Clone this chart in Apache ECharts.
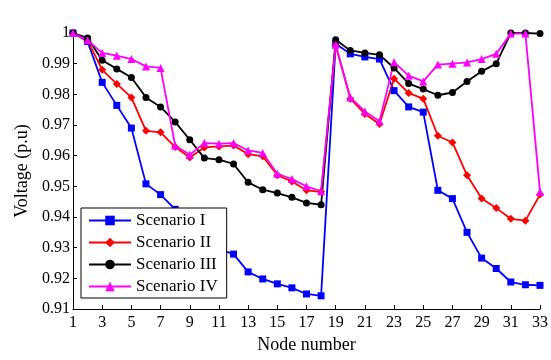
<!DOCTYPE html>
<html><head><meta charset="utf-8">
<script src="https://cdn.jsdelivr.net/npm/echarts@6/dist/echarts.min.js"></script>
<style>html,body{margin:0;padding:0;background:#fff}#c{width:551px;height:360px}</style>
</head><body><div id="c"></div>
<script>
const nodes = Array.from({length:33},(_,i)=>String(i+1));
const scenario1 = [1.0000,0.9972,0.9839,0.9764,0.9690,0.9508,0.9473,0.9425,0.9375,0.9305,0.9295,0.9279,0.9221,0.9198,0.9182,0.9169,0.9149,0.9143,
  0.9965,0.9932,0.9922,0.9915,0.9812,0.9759,0.9742,0.9487,0.9460,0.9350,0.9266,0.9232,0.9188,0.9179,0.9177];
const scenario2 = [1.0000,0.9976,0.9880,0.9834,0.9790,0.9681,0.9676,0.9628,0.9594,0.9627,0.9630,0.9633,0.9605,0.9598,0.9536,0.9516,0.9487,0.9482,
  0.9959,0.9786,0.9736,0.9703,0.9851,0.9804,0.9786,0.9665,0.9643,0.9536,0.9460,0.9429,0.9394,0.9388,0.9473];
const scenario3 = [1.0000,0.9984,0.9911,0.9883,0.9855,0.9790,0.9759,0.9710,0.9652,0.9592,0.9587,0.9573,0.9513,0.9489,0.9478,0.9464,0.9446,0.9440,
  0.9978,0.9943,0.9935,0.9929,0.9886,0.9835,0.9817,0.9797,0.9806,0.9842,0.9875,0.9900,1.0000,1.0000,0.9998];
const scenario4 = [1.0000,0.9976,0.9935,0.9926,0.9915,0.9891,0.9886,0.9633,0.9603,0.9641,0.9639,0.9641,0.9617,0.9609,0.9541,0.9524,0.9500,0.9484,
  0.9962,0.9790,0.9744,0.9712,0.9905,0.9861,0.9842,0.9897,0.9900,0.9904,0.9915,0.9932,0.9998,0.9998,0.9482];
const seriesNames = ['Scenario I','Scenario II','Scenario III','Scenario IV'];
const yTicks = ['0.91','0.92','0.93','0.94','0.95','0.96','0.97','0.98','0.99','1'];

const font = '"Liberation Serif","DejaVu Serif",serif';
const chart = echarts.init(document.getElementById('c'));
function mk(name, data, color, symbol, size){
  return {name, type:'line', data, symbol, symbolSize:size, showSymbol:true,
    lineStyle:{color, width:1.8}, itemStyle:{color}, animation:false};
}
chart.setOption({
  animation:false,
  backgroundColor:'#fff',
  grid:{left:73,right:10,top:33,bottom:51},
  legend:{orient:'vertical', left:81, top:208, backgroundColor:'#fff', borderColor:'#000', borderWidth:1,
    borderRadius:0, padding:[4,9,3,7], itemWidth:42, itemHeight:12, itemGap:5,
    textStyle:{fontFamily:font, fontSize:17, color:'#000'}, data:seriesNames},
  xAxis:{type:'category', data:nodes, boundaryGap:false,
    name:'Node number', nameLocation:'middle', nameGap:26,
    nameTextStyle:{fontFamily:font, fontSize:18, color:'#000'},
    axisLine:{lineStyle:{color:'#000', width:1}},
    axisTick:{inside:true, length:4, interval:1, lineStyle:{color:'#000'}},
    axisLabel:{interval:1, fontFamily:font, fontSize:16, color:'#000', margin:6},
    splitLine:{show:false}},
  yAxis:{type:'value', min:0.91, max:1, interval:0.01,
    name:'Voltage (p.u)', nameLocation:'middle', nameGap:41,
    nameTextStyle:{fontFamily:font, fontSize:18, color:'#000'},
    axisLine:{show:true, lineStyle:{color:'#000', width:1}},
    axisTick:{show:true, inside:true, length:4, lineStyle:{color:'#000'}},
    axisLabel:{fontFamily:font, fontSize:16, color:'#000', margin:3,
      formatter:(v)=>yTicks[Math.round((v-0.91)*100)]},
    splitLine:{show:false}},
  series:[
    mk(seriesNames[0], scenario1, '#0000ff', 'rect', 7),
    mk(seriesNames[1], scenario2, '#ff0000', 'diamond', 8),
    mk(seriesNames[2], scenario3, '#000000', 'circle', 7),
    mk(seriesNames[3], scenario4, '#ff00ff', 'triangle', 8)
  ]
});
</script></body></html>
